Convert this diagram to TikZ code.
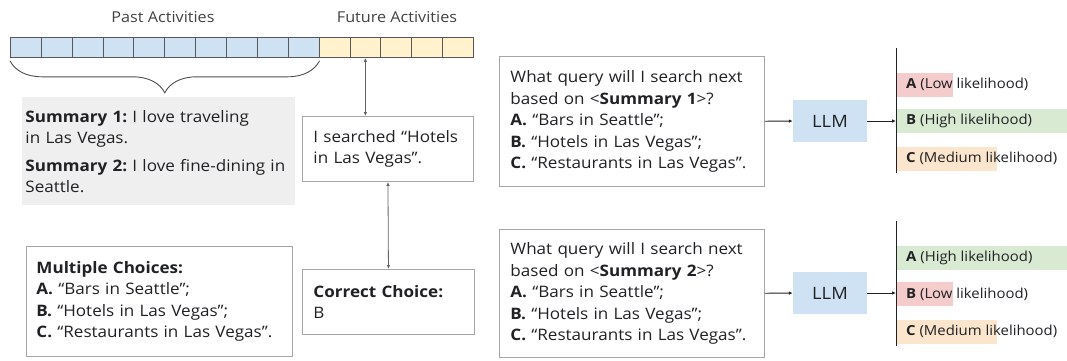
\documentclass[tikz,border=0pt]{standalone}
\usepackage{fontspec}
\setmainfont{Open Sans}[FakeStretch=1.08]
\usetikzlibrary{arrows.meta, decorations.pathreplacing}
\definecolor{ink}{HTML}{202124}
\definecolor{edge}{HTML}{A6A6A6}
\definecolor{pastblue}{HTML}{CFE2F3}
\definecolor{futureyellow}{HTML}{FFF2CC}
\definecolor{summarygray}{HTML}{EFEFEF}
\definecolor{lowred}{HTML}{F4CCCC}
\definecolor{highgreen}{HTML}{D9EAD3}
\definecolor{medorange}{HTML}{FCE5CD}
\frenchspacing

\begin{document}
\begin{tikzpicture}[x=1pt, y=-1pt,
        body/.style={font=\fontsize{15.8}{21.5}\selectfont, text=ink},
        box/.style={body, draw=edge, line width=0.9pt, anchor=north west, align=left, inner ysep=0pt},
        cell/.style={draw=ink!75, line width=0.8pt, anchor=north west, minimum width=30.87pt, minimum height=20pt, inner sep=0pt},
        tag/.style={font=\fontsize{15}{17}\selectfont, text=ink!85},
        llm/.style={fill=pastblue, minimum width=74pt, minimum height=42pt, font=\fontsize{17}{20}\selectfont, text=ink},
        hl/.style={anchor=west, inner sep=0pt, minimum height=24pt},
        pick/.style={anchor=west, inner sep=0pt, font=\fontsize{13.8}{16}\selectfont, text=ink},
        link/.style={{Latex[length=4pt,width=3.5pt]}-{Latex[length=4pt,width=3.5pt]}, draw=ink!70, line width=0.8pt},
        feed/.style={-{Latex[length=4pt,width=3.5pt]}, draw=ink, line width=0.8pt}]
    \useasboundingbox (0,0) rectangle (1067,360);

    % activity sequence
    \node[tag] (past) at (163,17) {Past Activities};
    \node[tag] (future) at (397,17) {Future Activities};
    \foreach \i in {0,...,9}
        \node[cell, fill=pastblue] (c\i) at ({10+30.87*\i},37) {};
    \foreach \i in {10,...,14}
        \node[cell, fill=futureyellow] (c\i) at ({10+30.87*\i},37) {};
    \draw[ink!80, line width=0.9pt, decorate, decoration={brace, amplitude=32pt}]
        ([yshift=-3pt]c9.south east) -- ([yshift=-3pt]c0.south west);

    \node[box, draw=none, fill=summarygray, inner xsep=3pt, text width=267pt, minimum height=108pt] (summary) at (22,97)
        {\textbf{Summary 1:} I love traveling\\in Las Vegas.\\[6pt]\textbf{Summary 2:} I love fine-dining in\\Seattle.};
    \node[box, inner xsep=10pt, text width=246pt, minimum height=110pt] (choices) at (26,246)
        {\textbf{Multiple Choices:}\\\textbf{A.} “Bars in Seattle”;\\\textbf{B.} “Hotels in Las Vegas”;\\\textbf{C.} “Restaurants in Las Vegas”.};
    \node[box, inner xsep=11pt, text width=149pt, minimum height=65pt] (hotels) at (302,116)
        {I searched “Hotels\\in Las Vegas”.};
    \node[box, inner xsep=11pt, text width=150pt, minimum height=65pt] (correct) at (302,269)
        {\textbf{Correct Choice:}\\B};
    \draw[link] (c11.south) -- (c11.south |- hotels.north);
    \draw[link] (hotels.south) -- (correct.north);

    % summary 1
    \node[box, inner xsep=11pt, text width=243pt, minimum height=130pt] (query1) at (499,56)
        {What query will I search next\\based on <\textbf{Summary 1}>?\\\textbf{A.} “Bars in Seattle”;\\\textbf{B.} “Hotels in Las Vegas”;\\\textbf{C.} “Restaurants in Las Vegas”.};
    \node[llm] (llm1) at (830,121) {LLM};
    \coordinate (v1top) at (896,48);
    \coordinate (v1bot) at (896,173);
    \node[hl, fill=lowred, minimum width=57pt] (a1) at (896,84.5) {};
    \node[hl, fill=highgreen, minimum width=171pt] (b1) at (896,121) {};
    \node[hl, fill=medorange, minimum width=101pt] (c1) at (896,158.5) {};
    \node[pick] (a1t) at (906,84.5) {\textbf{A} (Low likelihood)};
    \node[pick] (b1t) at (906,121) {\textbf{B} (High likelihood)};
    \node[pick] (c1t) at (906,158.5) {\textbf{C} (Medium likelihood)};
    \draw[ink, line width=0.9pt] (v1top) -- (v1bot);
    \draw[feed] (query1) -- (llm1);
    \draw[feed] (llm1) -- (llm1 -| v1top);

    % summary 2
    \node[box, inner xsep=11pt, text width=243pt, minimum height=128pt] (query2) at (499,229)
        {What query will I search next\\based on <\textbf{Summary 2}>?\\\textbf{A.} “Bars in Seattle”;\\\textbf{B.} “Hotels in Las Vegas”;\\\textbf{C.} “Restaurants in Las Vegas”.};
    \node[llm] (llm2) at (830,293) {LLM};
    \coordinate (v2top) at (896,221);
    \coordinate (v2bot) at (896,346);
    \node[hl, fill=highgreen, minimum width=171pt] (a2) at (896,257.5) {};
    \node[hl, fill=lowred, minimum width=57pt] (b2) at (896,294) {};
    \node[hl, fill=medorange, minimum width=101pt] (c2) at (896,331.5) {};
    \node[pick] (a2t) at (906,257.5) {\textbf{A} (High likelihood)};
    \node[pick] (b2t) at (906,294) {\textbf{B} (Low likelihood)};
    \node[pick] (c2t) at (906,331.5) {\textbf{C} (Medium likelihood)};
    \draw[ink, line width=0.9pt] (v2top) -- (v2bot);
    \draw[feed] (query2) -- (llm2);
    \draw[feed] (llm2) -- (llm2 -| v2top);
\end{tikzpicture}
\end{document}
